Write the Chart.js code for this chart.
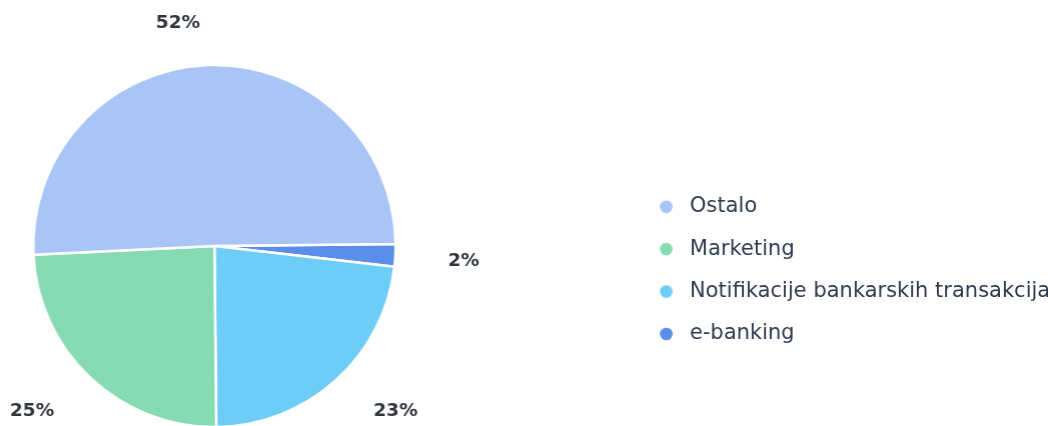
<!DOCTYPE html>
<html><head><meta charset="utf-8">
<script src="https://cdn.jsdelivr.net/npm/chart.js@4.4.0/dist/chart.umd.min.js"></script>
<style>html,body{margin:0;padding:0;background:#fff;overflow:hidden;width:1048px;height:426px}#wrap{position:absolute;top:0;height:426px}</style>
</head><body><div id="wrap"><canvas id="c"></canvas></div>
<script>
// Data (clockwise from the right, legend shown reversed)
const categories = ['e-banking', 'Notifikacije bankarskih transakcija', 'Marketing', 'Ostalo'];
const values = [2, 23, 24.4, 50.6];
const percentLabels = ['2%', '23%', '25%', '52%'];
const colors = ['#5b8ee8', '#6ecdf6', '#86dbb3', '#a9c5f6'];

// Layout constants
const FONT_FAMILY = '"DejaVu Sans", sans-serif';
const LEG_FONT = 21, LEG_PAD = 21.4, BOX_W = 13;
const DOT_X = 665;            // legend dot centre (window px)
const PIE_CX = 214;           // pie centre x (window px)
const mctx = document.createElement('canvas').getContext('2d');
mctx.font = LEG_FONT + 'px ' + FONT_FAMILY;
const maxTextW = Math.max(...categories.map(t => mctx.measureText(t).width));
const legendLeft = DOT_X - LEG_PAD;                 // window coords
const shift = legendLeft - 2 * PIE_CX;              // canvas extends this far left of window
const legendWidth = LEG_PAD + BOX_W + LEG_FONT / 2 + maxTextW + 10;
const wrap = document.getElementById('wrap');
wrap.style.left = (-shift) + 'px';
wrap.style.width = (shift + legendLeft + legendWidth + 1) + 'px';

// legend dots as small images (dot on the left part of the image)
const dots = colors.map(c => {
  const cv = document.createElement('canvas');
  cv.width = 26; cv.height = 14;
  const g = cv.getContext('2d');
  g.fillStyle = c; g.beginPath(); g.arc(6.5, 7, 6.3, 0, Math.PI * 2); g.fill();
  return cv;
});

const pctLabelPlugin = {
  id: 'pctLabels',
  afterDatasetsDraw(chart, args, opts) {
    const ctx = chart.ctx;
    const meta = chart.getDatasetMeta(0);
    ctx.save();
    ctx.font = opts.font; ctx.fillStyle = opts.color;
    ctx.textAlign = 'center'; ctx.textBaseline = 'middle';
    meta.data.forEach((arc, i) => {
      const p = arc.getProps(['x', 'y', 'startAngle', 'endAngle', 'outerRadius'], true);
      const a = (p.startAngle + p.endAngle) / 2 + opts.angleShift[i] * Math.PI / 180;
      const r = p.outerRadius * opts.distance[i];
      ctx.fillText(percentLabels[i], p.x + Math.cos(a) * r, p.y + Math.sin(a) * r);
    });
    ctx.restore();
  }
};

new Chart(document.getElementById('c'), {
  type: 'pie',
  data: {
    labels: categories,
    datasets: [{ data: values, backgroundColor: colors, borderColor: '#ffffff', borderWidth: 2.5, radius: 181 }]
  },
  options: {
    responsive: true, maintainAspectRatio: false, animation: false, devicePixelRatio: 1,
    rotation: 89.4,
    layout: { padding: { top: 66, bottom: 0, left: 0, right: 0 } },
    plugins: {
      tooltip: { enabled: false },
      legend: {
        position: 'right', reverse: true, align: 'center',
        title: { display: true, text: ' ', font: { size: 10, lineHeight: 1 }, padding: { top: 38.6, bottom: 0 } },
        labels: {
          usePointStyle: true, boxWidth: BOX_W, boxHeight: BOX_W, padding: LEG_PAD,
          color: '#2e3a4f', font: { family: FONT_FAMILY, size: LEG_FONT },
          generateLabels(chart) {
            const items = Chart.overrides.doughnut.plugins.legend.labels.generateLabels(chart);
            items.forEach(it => { it.pointStyle = dots[it.index]; });
            return items;
          }
        }
      },
      pctLabels: {
        font: 'bold 18.5px ' + FONT_FAMILY, color: '#30343c',
        angleShift: [0.6, -5.6, 4.5, -7.6],
        distance: [1.379, 1.354, 1.359, 1.248]
      }
    }
  },
  plugins: [pctLabelPlugin]
});
</script>
</body></html>
